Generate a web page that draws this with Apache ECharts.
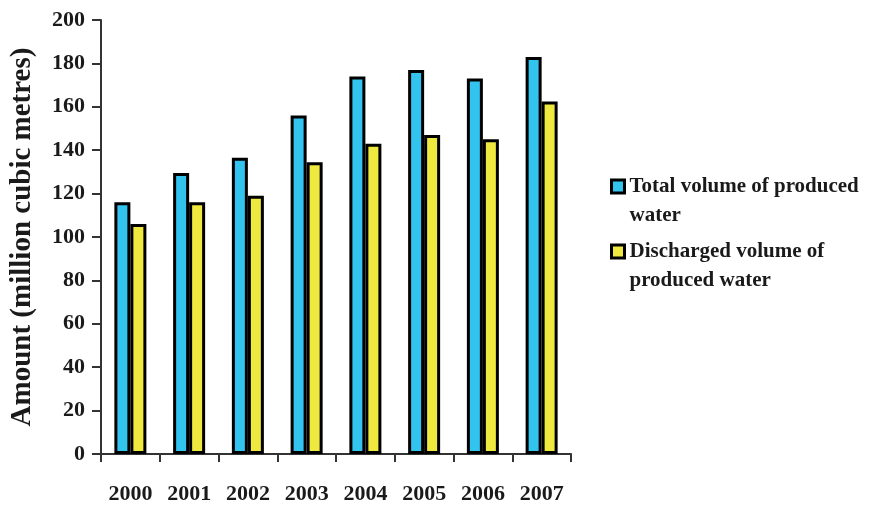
<!DOCTYPE html>
<html>
<head>
<meta charset="utf-8">
<script src="https://cdn.jsdelivr.net/npm/echarts@6/dist/echarts.min.js"></script>
<style>
  html, body { margin: 0; padding: 0; background: #fff; }
  #chart { width: 870px; height: 507px; }
</style>
</head>
<body>
<div id="chart"></div>
<script>
// data
const years = ["2000", "2001", "2002", "2003", "2004", "2005", "2006", "2007"];
const totalVolume = [116, 129.5, 136.5, 156, 174, 177, 173, 183];
const dischargedVolume = [106, 116, 119, 134.5, 143, 147, 145, 162.5];
const seriesNames = ["Total volume of produced water", "Discharged volume of produced water"];
// legend text wrapped as in the reference
const legendLines = {
  "Total volume of produced water": "Total volume of produced\nwater",
  "Discharged volume of produced water": "Discharged volume of\nproduced water"
};

const serif = "Liberation Serif";
const chart = echarts.init(document.getElementById("chart"));

chart.setOption({
  animation: false,
  grid: { left: 100, right: 299, top: 20, bottom: 53 },
  legend: {
    orient: "vertical",
    left: 605,
    top: 138,
    icon: "rect",
    itemWidth: 13,
    itemHeight: 13,
    itemGap: -22,
    itemStyle: { borderColor: "#000", borderWidth: 3 },
    // leading blank line keeps the icon level with the first text line
    formatter: (name) => "\n" + legendLines[name],
    textStyle: {
      fontFamily: serif,
      fontWeight: "bold",
      fontSize: 21,
      lineHeight: 29,
      color: "#1a1a1a",
      padding: [0, 0, 0, 0]
    },
    data: seriesNames
  },
  xAxis: {
    type: "category",
    data: years,
    axisLine: { lineStyle: { color: "#333", width: 2 } },
    axisTick: { show: true, length: 8, lineStyle: { color: "#333", width: 2 } },
    axisLabel: {
      interval: 0,
      hideOverlap: false,
      margin: 29,
      fontFamily: serif,
      fontWeight: "bold",
      fontSize: 22,
      color: "#1a1a1a"
    }
  },
  yAxis: {
    type: "value",
    min: 0,
    max: 200,
    interval: 20,
    name: "Amount (million cubic metres)",
    nameLocation: "middle",
    nameGap: 64,
    nameTextStyle: {
      fontFamily: serif,
      fontWeight: "bold",
      fontSize: 29,
      color: "#1a1a1a"
    },
    splitLine: { show: false },
    axisLine: { show: true, lineStyle: { color: "#333", width: 2 } },
    axisTick: { show: true, length: 9, lineStyle: { color: "#333", width: 2 } },
    axisLabel: {
      margin: 16,
      fontFamily: serif,
      fontWeight: "bold",
      fontSize: 22,
      color: "#1a1a1a"
    }
  },
  series: [
    {
      name: seriesNames[0],
      type: "bar",
      data: totalVolume,
      barWidth: 16,
      barGap: "0%",
      itemStyle: { color: "#33C3EF", borderColor: "#000", borderWidth: 3 }
    },
    {
      name: seriesNames[1],
      type: "bar",
      data: dischargedVolume,
      barWidth: 16,
      itemStyle: { color: "#EEE83F", borderColor: "#000", borderWidth: 3 }
    }
  ]
});
</script>
</body>
</html>
